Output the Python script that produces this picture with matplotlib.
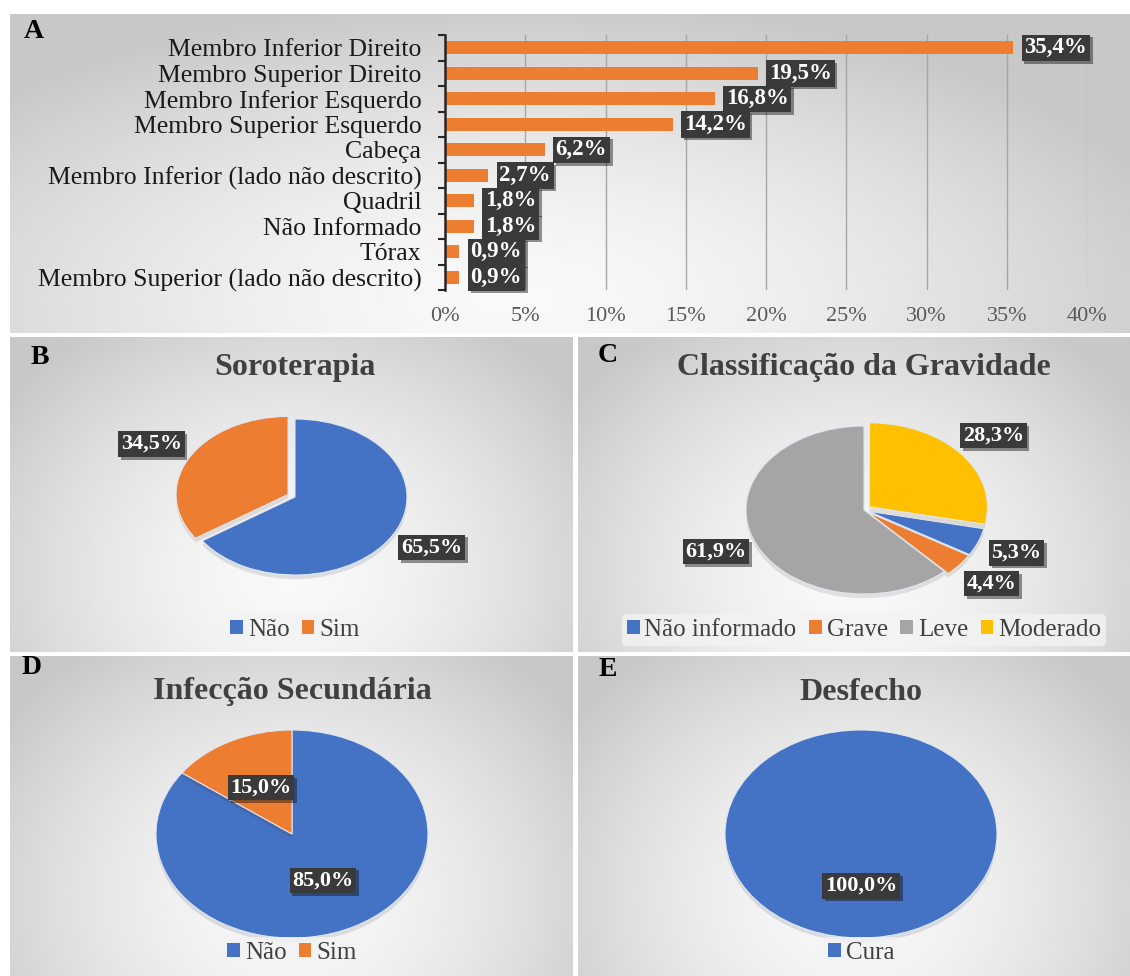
import numpy as np
import matplotlib
matplotlib.use("Agg")
import matplotlib.pyplot as plt
import matplotlib.patheffects as pe
from matplotlib.patches import Patch

plt.rcParams['font.family'] = ['Liberation Serif', 'DejaVu Serif']

W, H = 1130, 976

BLUE = '#4472C4'
ORANGE = '#ED7D31'
GRAY = '#A5A5A5'
YELLOW = '#FFC000'

# --- data -----------------------------------------------------------------
regions = ["Membro Inferior Direito", "Membro Superior Direito",
           "Membro Inferior Esquerdo", "Membro Superior Esquerdo", "Cabeça",
           "Membro Inferior (lado não descrito)", "Quadril", "Não Informado",
           "Tórax", "Membro Superior (lado não descrito)"]
region_pct = [35.4, 19.5, 16.8, 14.2, 6.2, 2.7, 1.8, 1.8, 0.9, 0.9]
x_ticks = [0, 5, 10, 15, 20, 25, 30, 35, 40]

soro_labels = ["Não", "Sim"]
soro_pct = [65.5, 34.5]

grav_labels = ["Não informado", "Grave", "Leve", "Moderado"]
grav_pct = [5.3, 4.4, 61.9, 28.3]

infec_labels = ["Não", "Sim"]
infec_pct = [85.0, 15.0]

desf_labels = ["Cura"]
desf_pct = [100.0]


def px_rect(x0, y0, x1, y1):
    """pixel box (top-left origin) -> figure fraction rect"""
    return [x0 / W, 1 - y1 / H, (x1 - x0) / W, (y1 - y0) / H]


def fmt(v):
    return f"{v:.1f}%".replace('.', ',')


def dark_box(txt, size=16):
    txt.set_fontsize(size)
    txt.set_fontweight('bold')
    txt.set_color('white')
    txt.set_bbox(dict(boxstyle='square,pad=0.12', facecolor='#3a3a3a', edgecolor='none'))
    txt.get_bbox_patch().set_path_effects(
        [pe.SimplePatchShadow(offset=(2, -2), alpha=0.45), pe.Normal()])


def panel_bg(rect, cx=0.5, cy=0.75):
    ax = fig.add_axes(rect, zorder=0)
    yy, xx = np.mgrid[0:1:200j, 0:1:200j]
    r = np.sqrt(((xx - cx) / 0.62) ** 2 + ((yy - cy) / 0.95) ** 2)
    val = 0.975 - 0.19 * np.clip(r, 0, 1) ** 1.6
    ax.imshow(val, cmap='gray', vmin=0, vmax=1, aspect='auto',
              extent=[0, 1, 0, 1], origin='upper', interpolation='bilinear')
    ax.set_axis_off()
    return ax


def pie_panel(letter, title, labels, values, colors, cx, cy, rx, ry,
              letter_xy, title_y, legend_y, pctdist, startangle=90,
              explode=None):
    ax = fig.add_axes(px_rect(cx - 1.25 * rx, cy - 1.25 * ry,
                              cx + 1.25 * rx, cy + 1.25 * ry), zorder=2)
    wedges, _ = ax.pie(values, colors=colors, startangle=startangle,
                       counterclock=False, explode=explode,
                       wedgeprops=dict(edgecolor='#dfe6f0', linewidth=0.8))
    for w in wedges:
        w.set_path_effects([pe.SimplePatchShadow(offset=(0, -3), alpha=0.12), pe.Normal()])
    for w, v in zip(wedges, values):
        ang = np.deg2rad((w.theta1 + w.theta2) / 2)
        x0, y0 = w.center
        t = ax.text(x0 + pctdist * np.cos(ang), y0 + pctdist * np.sin(ang), fmt(v),
                    ha='center', va='center', zorder=5)
        dark_box(t, 16)
    ax.set_xlim(-1.25, 1.25)
    ax.set_ylim(-1.25, 1.25)
    ax.set_aspect('auto')
    fig.text(letter_xy[0] / W, 1 - letter_xy[1] / H, letter, fontsize=20,
             fontweight='bold', ha='center', va='center', zorder=3)
    fig.text(cx / W, 1 - title_y / H, title, fontsize=23, fontweight='bold',
             color='#404040', ha='center', va='center', zorder=3)
    handles = [Patch(facecolor=c, edgecolor='none') for c in colors]
    fig.legend(handles, labels, loc='center', bbox_to_anchor=(cx / W, 1 - legend_y / H),
               ncol=len(labels), frameon=True, facecolor='#f3f3f3', edgecolor='none',
               fontsize=18, handlelength=0.5, handleheight=0.5, handletextpad=0.2,
               columnspacing=0.5, borderpad=0.2, framealpha=0.8,
               labelcolor='#404040')
    return ax


fig = plt.figure(figsize=(W / 100, H / 100), dpi=100)
fig.patch.set_facecolor('white')

# --- panel backgrounds ----------------------------------------------------
panel_bg(px_rect(10, 14, 1130, 333), cx=0.45, cy=0.9)
panel_bg(px_rect(10, 337, 573, 652))
panel_bg(px_rect(578, 337, 1130, 652))
panel_bg(px_rect(10, 656, 573, 976))
panel_bg(px_rect(578, 656, 1130, 976))

# --- panel A: bars --------------------------------------------------------
axA = fig.add_axes(px_rect(445, 35, 1087, 290), zorder=2)
axA.patch.set_alpha(0)
ypos = np.arange(len(regions))
bars = axA.barh(ypos, region_pct, height=0.5, color=ORANGE, zorder=3)
axA.set_xlim(0, 40)
axA.set_ylim(len(regions) - 0.5, -0.5)
axA.set_yticks(ypos)
axA.set_yticklabels(regions, fontsize=18.5, color='#1a1a1a')
axA.set_yticks(np.arange(len(regions) + 1) - 0.5, minor=True)
axA.tick_params(axis='y', which='major', length=0, pad=17)
axA.tick_params(axis='y', which='minor', length=5, width=1.5, color='#262626', direction='out')
axA.set_xticks(x_ticks)
axA.set_xticklabels([f"{t}%" for t in x_ticks], fontsize=16, color='#595959')
axA.tick_params(axis='x', length=0, pad=12)
axA.grid(axis='x', color='#a6a6a6', linewidth=1, zorder=1)
for s in ['top', 'right', 'bottom']:
    axA.spines[s].set_visible(False)
axA.spines['left'].set_color('#262626')
axA.spines['left'].set_linewidth(1.8)
axA.spines['left'].set_zorder(4)
for b, v in zip(bars, region_pct):
    t = axA.annotate(fmt(v), (b.get_width(), b.get_y() + b.get_height() / 2),
                     xytext=(8, 0), textcoords='offset points', ha='left', va='center', zorder=5)
    dark_box(t, 16.5)
fig.text(34 / W, 1 - 32 / H, "A", fontsize=20, fontweight='bold', ha='center', va='center', zorder=3)

# --- panel B --------------------------------------------------------------
pie_panel("B", "Soroterapia", soro_labels, soro_pct, [BLUE, ORANGE],
          cx=295, cy=497, rx=112, ry=78, letter_xy=(40, 357), title_y=368,
          legend_y=630, pctdist=1.38, explode=[0, 0.07])

# --- panel C --------------------------------------------------------------
pie_panel("C", "Classificação da Gravidade", grav_labels, grav_pct,
          [BLUE, ORANGE, GRAY, YELLOW],
          cx=864, cy=510, rx=118, ry=84, letter_xy=(608, 355), title_y=368,
          legend_y=630, pctdist=1.35, startangle=-12,
          explode=[0.04, 0.04, 0.0, 0.06])

# --- panel D --------------------------------------------------------------
pie_panel("D", "Infecção Secundária", infec_labels, infec_pct, [BLUE, ORANGE],
          cx=292, cy=834, rx=136, ry=104, letter_xy=(32, 668), title_y=691,
          legend_y=953, pctdist=0.5)

# --- panel E --------------------------------------------------------------
pie_panel("E", "Desfecho", desf_labels, desf_pct, [BLUE],
          cx=861, cy=834, rx=136, ry=104, letter_xy=(608, 670), title_y=692,
          legend_y=953, pctdist=0.5)

fig.savefig("out.png", dpi=100)
